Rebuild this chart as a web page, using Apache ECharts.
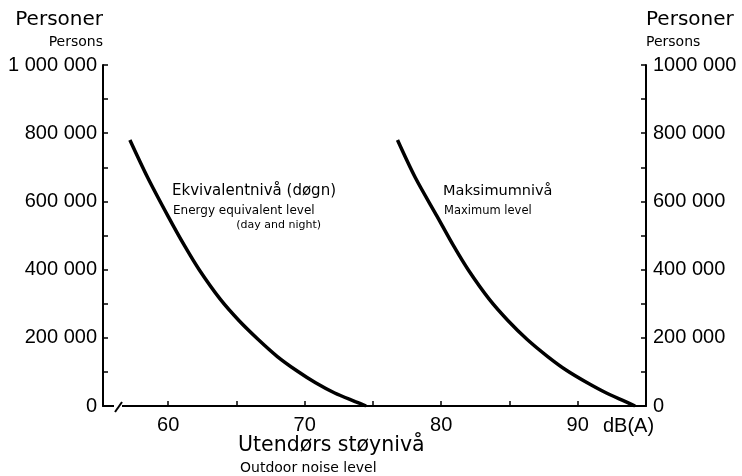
<!DOCTYPE html>
<html><head><meta charset="utf-8">
<script src="https://cdn.jsdelivr.net/npm/echarts@6/dist/echarts.min.js"></script>
<style>html,body{margin:0;padding:0;background:#fff}#c{width:742px;height:476px}</style>
</head><body><div id="c"></div>
<script>
// Data
const equivDb      = [57.2, 58.5, 60.0, 61.2, 62.3, 63.8, 65.2, 66.6, 68.0, 69.4, 70.8, 72.2, 73.7, 74.5];
const equivPersons = [780000, 670000, 556000, 470000, 398000, 314000, 250000, 195000, 145000, 104000, 68000, 38000, 13000, 0];
const maxDb        = [76.8, 78.1, 79.7, 80.9, 82.0, 83.5, 84.9, 86.3, 87.8, 89.2, 90.7, 92.1, 93.5, 94.2];
const maxPersons   = [780000, 670000, 556000, 470000, 398000, 314000, 250000, 195000, 145000, 104000, 68000, 38000, 13000, 0];
const xTickValues  = [60, 65, 70, 75, 80, 85, 90];
const xLabelValues = [60, 70, 80, 90];
const leftYLabels  = ['0', '200 000', '400 000', '600 000', '800 000', '1 000 000'];
const rightYLabels = ['0', '200 000', '400 000', '600 000', '800 000', '1000 000'];
const yAxisTitle   = ['Personer', 'Persons'];
const xAxisTitle   = ['Utendørs støynivå', 'Outdoor noise level'];
const xUnit        = 'dB(A)';
const equivLabel   = ['Ekvivalentnivå (døgn)', 'Energy equivalent level', '(day and night)'];
const maxLabel     = ['Maksimumnivå', 'Maximum level'];

const black = '#000';
const numFont = 'Liberation Sans';
const txtFont = 'DejaVu Sans';

function yAxisCfg(pos, labels) {
  const isLeft = pos === 'left';
  return {
    type: 'value', position: pos, min: 0, max: 1000000, interval: 100000,
    axisLine: { show: true, lineStyle: { color: black, width: 2 } },
    axisTick: { show: true, inside: true, length: 5, lineStyle: { color: black, width: 1.5 } },
    splitLine: { show: false },
    axisLabel: {
      margin: isLeft ? 6 : 7,
      fontFamily: numFont, fontSize: 20, color: black,
      formatter: v => (v % 200000 === 0 ? labels[v / 200000] : '')
    },
    name: '{a|' + yAxisTitle[0] + '}\n{b|' + yAxisTitle[1] + '}',
    nameLocation: 'end', nameGap: 13,
    nameTextStyle: {
      align: isLeft ? 'right' : 'left', verticalAlign: 'bottom',
      rich: {
        a: { fontFamily: txtFont, fontSize: 20, lineHeight: 24, color: black, align: isLeft ? 'right' : 'left' },
        b: { fontFamily: txtFont, fontSize: 14, lineHeight: 20, color: black, align: isLeft ? 'right' : 'left' }
      }
    }
  };
}

const chart = echarts.init(document.getElementById('c'));
chart.setOption({
  animation: false,
  backgroundColor: '#fff',
  grid: { left: 103, right: 96, top: 65, bottom: 70 },
  xAxis: {
    type: 'value', min: 55.23, max: 95,
    axisLine: { show: true, onZero: false, lineStyle: { color: black, width: 2 } },
    axisTick: { show: true, inside: true, length: 5, customValues: xTickValues, lineStyle: { color: black, width: 1.5 } },
    axisLabel: { customValues: xLabelValues, margin: 9, fontFamily: numFont, fontSize: 20, color: black },
    splitLine: { show: false },
    name: xUnit, nameLocation: 'end', nameGap: -43,
    nameTextStyle: { fontFamily: numFont, fontSize: 20, color: black, align: 'left', verticalAlign: 'top', padding: [10, 0, 0, 0] }
  },
  yAxis: [yAxisCfg('left', leftYLabels), yAxisCfg('right', rightYLabels)],
  series: [
    { type: 'line', data: equivDb.map((d, i) => [d, equivPersons[i]]), smooth: 0.3, symbol: 'none',
      lineStyle: { color: black, width: 3.5 }, z: 3 },
    { type: 'line', data: maxDb.map((d, i) => [d, maxPersons[i]]), smooth: 0.3, symbol: 'none',
      lineStyle: { color: black, width: 3.5 }, z: 3 }
  ]
});

// axis break mark and text annotations
const bx = chart.convertToPixel({ xAxisIndex: 0 }, 56.33);
const by = chart.convertToPixel({ yAxisIndex: 0 }, 0);
chart.setOption({
  graphic: [
    { type: 'rect', shape: { x: bx - 4, y: by - 3, width: 8, height: 6 }, style: { fill: '#fff' }, z: 100 },
    { type: 'line', shape: { x1: bx - 3, y1: by + 6, x2: bx + 4, y2: by - 4 }, style: { stroke: black, lineWidth: 2 }, z: 101 },
    { type: 'text', x: 172, y: 191, style: { text: equivLabel[0], font: '15px "DejaVu Sans"', fill: black, textVerticalAlign: 'middle' } },
    { type: 'text', x: 173, y: 211, style: { text: equivLabel[1], font: '12px "DejaVu Sans"', fill: black, textVerticalAlign: 'middle' } },
    { type: 'text', x: 321, y: 225, style: { text: equivLabel[2], font: '11px "DejaVu Sans"', fill: black, textAlign: 'right', textVerticalAlign: 'middle' } },
    { type: 'text', x: 443, y: 191, style: { text: maxLabel[0], font: '14.5px "DejaVu Sans"', fill: black, textVerticalAlign: 'middle' } },
    { type: 'text', x: 444, y: 211, style: { text: maxLabel[1], font: '11.5px "DejaVu Sans"', fill: black, textVerticalAlign: 'middle' } },
    { type: 'text', x: 238, y: 446, style: { text: xAxisTitle[0], font: '20.5px "DejaVu Sans"', fill: black, textVerticalAlign: 'middle' } },
    { type: 'text', x: 240, y: 468, style: { text: xAxisTitle[1], font: '14px "DejaVu Sans"', fill: black, textVerticalAlign: 'middle' } }
  ]
});
</script></body></html>
